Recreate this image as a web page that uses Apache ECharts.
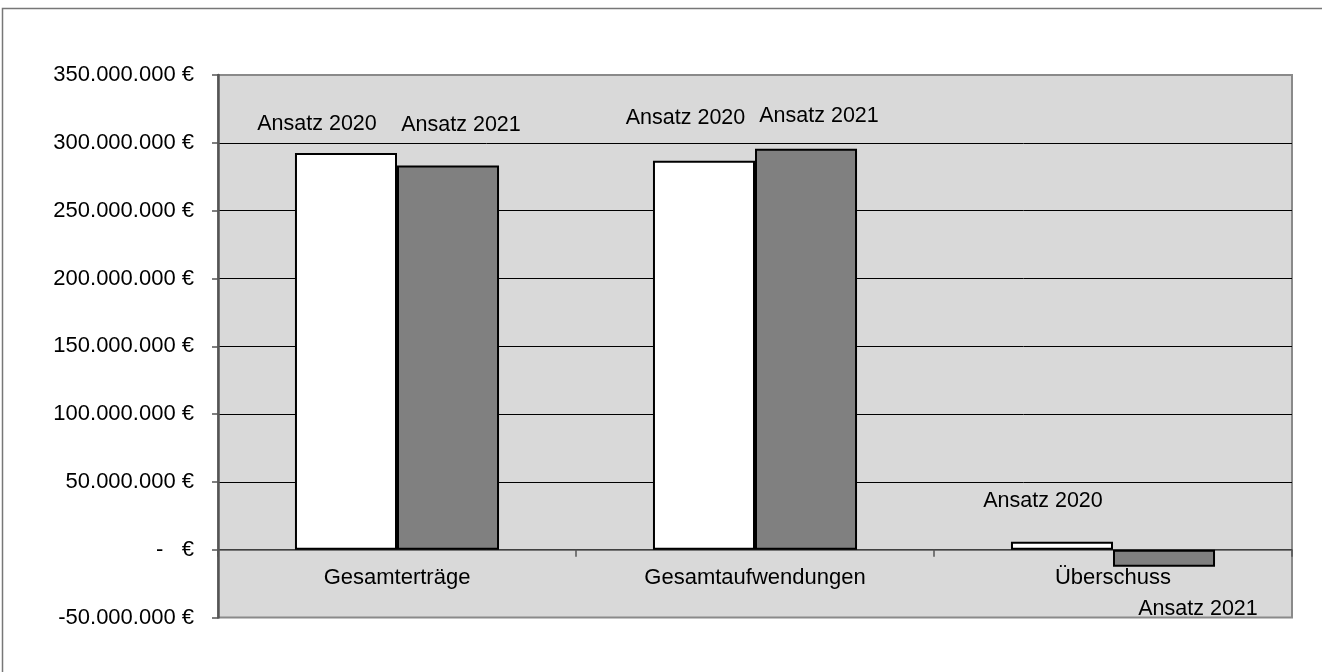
<!DOCTYPE html>
<html>
<head>
<meta charset="utf-8">
<script src="https://cdn.jsdelivr.net/npm/echarts@6/dist/echarts.min.js"></script>
<style>
html,body{margin:0;padding:0;background:#fff;}
#c{width:1322px;height:672px;}
</style>
</head>
<body>
<div id="c"></div>
<script>
// ---- data ----
const categories = ['Gesamterträge', 'Gesamtaufwendungen', 'Überschuss'];
const seriesNames = ['Ansatz 2020', 'Ansatz 2021'];
const ansatz2020 = [292500000, 286700000, 5800000];
const ansatz2021 = [283200000, 295700000, -12500000];
const yMin = -50000000;
const yMax = 350000000;
const yStep = 50000000;
const zeroTickLabel = '-   €';

// ---- styling / layout (not data) ----
const FONT = 'Liberation Sans, Arial, sans-serif';
const labelOffsets2020 = [[-29, -18], [-18.5, -32], [-19, -30]];
const labelOffsets2021 = [[13, -30], [13, -22], [34, 31.5]];

function fmtEuro(v) {
  if (v === 0) return zeroTickLabel;
  const neg = v < 0;
  const s = String(Math.abs(v)).replace(/\B(?=(\d{3})+(?!\d))/g, '.');
  return (neg ? '-' : '') + s + ' €';
}

function buildData(values, offsets, name) {
  return values.map((v, i) => ({
    value: v,
    label: {
      show: true,
      formatter: name,
      position: v >= 0 ? 'top' : 'bottom',
      distance: 0,
      offset: offsets[i]
    }
  }));
}

const chart = echarts.init(document.getElementById('c'), null, {renderer: 'canvas'});
chart.setOption({
  animation: false,
  backgroundColor: '#ffffff',
  textStyle: {fontFamily: FONT},
  graphic: [{
    type: 'rect',
    z: -10,
    shape: {x: 2.5, y: 8.5, width: 1400, height: 800},
    style: {fill: 'none', stroke: '#777777', lineWidth: 1.5}
  }],
  grid: {
    left: 218, right: 30, top: 75, bottom: 54.5,
    show: true,
    backgroundColor: '#d9d9d9',
    borderColor: '#8a8a8a',
    borderWidth: 2
  },
  xAxis: {
    type: 'category',
    data: categories,
    axisLine: {show: true, onZero: true, lineStyle: {color: '#555555', width: 1.5}},
    axisTick: {show: true, length: 7, lineStyle: {color: '#555555', width: 1.5}},
    axisLabel: {color: '#000', fontSize: 22, fontFamily: FONT, margin: -51},
    splitLine: {show: false}
  },
  yAxis: {
    type: 'value',
    min: yMin, max: yMax, interval: yStep,
    axisLine: {show: true, lineStyle: {color: '#555555', width: 2.5}},
    axisTick: {show: true, length: 6, lineStyle: {color: '#555555', width: 1.5}},
    axisLabel: {color: '#000', fontSize: 22, fontFamily: FONT, margin: 24, formatter: fmtEuro},
    splitLine: {show: true, showMinLine: false, showMaxLine: false, lineStyle: {color: '#000000', width: 1}}
  },
  series: [
    {
      name: seriesNames[0],
      type: 'bar',
      data: buildData(ansatz2020, labelOffsets2020, seriesNames[0]),
      barGap: '0%',
      barCategoryGap: '43%',
      itemStyle: {color: '#ffffff', borderColor: '#000000', borderWidth: 2},
      label: {color: '#000', fontSize: 21.5, lineHeight: 22, fontFamily: FONT}
    },
    {
      name: seriesNames[1],
      type: 'bar',
      data: buildData(ansatz2021, labelOffsets2021, seriesNames[1]),
      barGap: '0%',
      barCategoryGap: '43%',
      itemStyle: {color: '#808080', borderColor: '#000000', borderWidth: 2},
      label: {color: '#000', fontSize: 21.5, lineHeight: 22, fontFamily: FONT}
    }
  ]
});
</script>
</body>
</html>
